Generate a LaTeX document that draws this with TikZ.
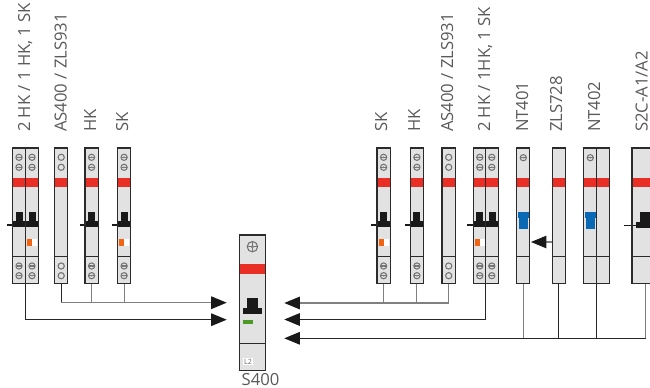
\documentclass[tikz,border=0pt]{standalone}
\usepackage{fontspec}
\setmainfont{Open Sans}
\usetikzlibrary{arrows.meta}
\definecolor{modfill}{HTML}{E2E2E2}
\definecolor{modred}{HTML}{E92E25}
\definecolor{modorange}{HTML}{F2640F}
\definecolor{modblue}{HTML}{0A69B4}
\definecolor{modgreen}{HTML}{4E9A26}
\definecolor{modline}{HTML}{2B2B2B}
\definecolor{labelgray}{HTML}{5A5A5A}
\tikzset{
  modbox/.style={rectangle,fill=modfill,inner sep=0pt,outer sep=0pt},
  edge line/.style={draw=modline,line width=.85pt},
  screw line/.style={draw=black!55,line width=.8pt},
  wire/.style={draw=black!85,line width=.75pt},
  wiregray/.style={draw=black!50,line width=.8pt},
  wiretip/.style={wire,-{Triangle[length=11.6pt,width=9.4pt,color=black!90]}},
  wiregraytip/.style={wiregray,-{Triangle[length=11.6pt,width=9.4pt,color=black!90]}},
  modlabel/.style={rotate=90,anchor=base west,inner sep=0pt,outer sep=0pt,text=labelgray,font=\fontsize{12.5}{15}\selectfont}
}
% name, x left, x right
\newcommand\modstart[3]{%
  \node[modbox,minimum width={(#3-#2)*0.75pt},minimum height={135.7*0.75pt}] (#1) at ({(#2+#3)/2},215.85) {};
  \fill[modred] (#2,177.7) rectangle (#3,186.7);
}
\newcommand\modend[1]{%
  \draw[edge line] (#1.west|-0,256.9) -- (#1.east|-0,256.9);
  \draw[edge line] (#1.north west) rectangle (#1.south east);
}
\newcommand\screw[2]{%
  \draw[screw line] (#1,#2) circle (3.1);
  \draw[screw line] (#1-2.5,#2) -- (#1+2.5,#2);
  \fill[black!50] (#1,#2) circle (1);
}
\newcommand\ringhole[2]{\draw[screw line] (#1,#2) circle (3.1);}
\newcommand\fourscrews[1]{\screw{#1}{157.3}\screw{#1}{167.3}\screw{#1}{266}\screw{#1}{275.7}}
\newcommand\fourrings[1]{\ringhole{#1}{157.3}\ringhole{#1}{167.3}\ringhole{#1}{266}\ringhole{#1}{275.7}}
% x left, x right
\newcommand\toggle[2]{%
  \fill[black!90] ({(#1+#2)/2-3.5},211.7) rectangle ({(#1+#2)/2+3.5},222);
  \fill[black!90] (#1,221) rectangle (#2,227.3);
}
\newcommand\lever[2]{\draw[black!90,line width=.9pt] (#1,225) -- (#2,225);}
\newcommand\flag[1]{%
  \fill[white] ({#1+5},239) rectangle ({#1+10},246);
  \fill[modorange] (#1,239) rectangle ({#1+5},246);
}
\newcommand\bluetoggle[1]{%
  \fill[modblue] (#1,211.7) rectangle ({#1+11.3},218);
  \fill[modblue] ({#1+1},218) rectangle ({#1+10.6},229.3);
}
\begin{document}
\begin{tikzpicture}[x=0.75pt,y=-0.75pt]
\clip (0,0) rectangle (650,388);
\fill[white] (0,0) rectangle (650,388);

% ---- modules, left group
\modstart{ma}{12.5}{38.7}
\fourscrews{19}\fourscrews{32}
\toggle{12.5}{25.6}\toggle{25.6}{38.7}\lever{7.3}{12.5}\flag{27}
\draw[edge line] (25.6,148) -- (25.6,283.7);
\modend{ma}

\modstart{mb}{54.7}{67.7}
\fourrings{61.2}
\modend{mb}

\modstart{mc}{85}{98.3}
\fourscrews{91.6}
\toggle{85}{98.3}\lever{80}{85}
\modend{mc}

\modstart{md}{117.7}{130.5}
\fourscrews{124.1}
\toggle{117.7}{130.5}\lever{112}{117.7}\flag{119}
\modend{md}

% ---- modules, right group
\modstart{me}{377}{390.3}
\fourscrews{383.6}
\toggle{377}{390.3}\lever{371}{377}\flag{379}
\modend{me}

\modstart{mf}{410.3}{423.5}
\fourscrews{416.9}
\toggle{410.3}{423.5}\lever{405}{410.3}
\modend{mf}

\modstart{mg}{442}{455.3}
\fourrings{448.7}
\modend{mg}

\modstart{mh}{473.3}{498.5}
\fourscrews{479.8}\fourscrews{491.8}
\toggle{473.3}{485.6}\toggle{485.6}{498.5}\lever{467}{473.3}\flag{475}
\draw[edge line] (485.6,148) -- (485.6,283.7);
\modend{mh}

\modstart{mi}{516.7}{529.7}
\screw{523.3}{157.7}
\bluetoggle{517.5}
\modend{mi}

\modstart{mj}{552.3}{565.3}
\modend{mj}

\modstart{mk}{583.7}{609.7}
\screw{590.3}{157.7}
\bluetoggle{584.5}
\draw[edge line] (596.7,148) -- (596.7,283.7);
\modend{mk}

\modstart{ml}{632}{659}
\fill[black!90] (640,211.7) rectangle (654,222);
\fill[black!90] (636,222) rectangle (658,228);
\draw[black!90,line width=.8pt] (624,225.7) -- (636,225.7);
\modend{ml}

% ---- S400
\node[modbox,minimum width={26.4*0.75pt},minimum height={135.3*0.75pt}] (sfour) at (252.5,302.65) {};
\fill[modred] (239.3,264.3) rectangle (265.7,273.7);
\draw[screw line] (252.4,246.7) circle (5.2);
\draw[screw line] (247,246.7) -- (258,246.7);
\draw[screw line] (252.4,241.5) -- (252.4,252);
\fill[black!50] (252.4,246.7) circle (1.8);
\fill[black!90] (247.3,298.3) rectangle (258.3,309);
\fill[black!90] (243.3,308.3) rectangle (262,314.3);
\fill[modgreen] (243,320) rectangle (253,324);
\node[fill=white,inner sep=0pt,minimum width={10*0.75pt},minimum height={7*0.75pt},text=black!60,font=\fontsize{5.4}{6}\selectfont] (ltwo) at (248,361.7) {L2};
\draw[edge line] (239.3,343.3) -- (265.7,343.3);
\draw[edge line] (sfour.north west) rectangle (sfour.south east);
\node[inner sep=0pt,text=labelgray,font=\fontsize{12.5}{15}\selectfont,anchor=base] (sfourlabel) at (260.5,385.5) {S400};

% ---- connector targets
\coordinate (la) at (226.7,302.7);
\coordinate (lb) at (226.7,319.7);
\coordinate (ra) at (284.3,303);
\coordinate (rb) at (284.3,319.5);
\coordinate (rc) at (284.3,338.3);
\coordinate (zt) at (531,242);

% ---- connectors, left
\draw[wire] (mb.south) -- (mb.south|-la);
\draw[wiregray] (mc.south) -- (mc.south|-la);
\draw[wiregray] (md.south) -- (md.south|-la);
\draw[wiregraytip] (mb.south|-la) -- (la);
\draw[wiretip] (ma.south) |- (lb);

% ---- connectors, right
\draw[wiregray] (me.south) -- (me.south|-ra);
\draw[wiregray] (mf.south) -- (mf.south|-ra);
\draw[wiregray] (mg.south) -- (mg.south|-ra);
\draw[wiregraytip] (mg.south|-ra) -- (ra);
\draw[wiretip] (mh.south) |- (rb);
\draw[wiregray] (mi.south) -- (mi.south|-rc);
\draw[wire] (mj.south) -- (mj.south|-rc);
\draw[wire] (mk.south) -- (mk.south|-rc);
\draw[wiregray] (ml.south) -- (ml.south|-rc);
\draw[wiretip] (ml.south|-rc) -- (rc);
\draw[wiregraytip] (mj.west|-zt) -- (zt);

% ---- labels
\node[modlabel] (ta) at (30,132) {2 HK / 1 HK, 1 SK};
\node[modlabel] (tb) at (66.5,132) {AS400 / ZLS931};
\node[modlabel] (tc) at (96,132) {HK};
\node[modlabel] (td) at (128,132) {SK};
\node[modlabel] (te) at (387,132) {SK};
\node[modlabel] (tf) at (420,132) {HK};
\node[modlabel] (tg) at (453,132) {AS400 / ZLS931};
\node[modlabel] (th) at (490,132) {2 HK / 1HK, 1 SK};
\node[modlabel] (ti) at (528,132) {NT401};
\node[modlabel] (tj) at (562,132) {ZLS728};
\node[modlabel] (tk) at (600,132) {NT402};
\node[modlabel] (tl) at (647.5,132) {S2C-A1/A2};
\end{tikzpicture}
\end{document}
